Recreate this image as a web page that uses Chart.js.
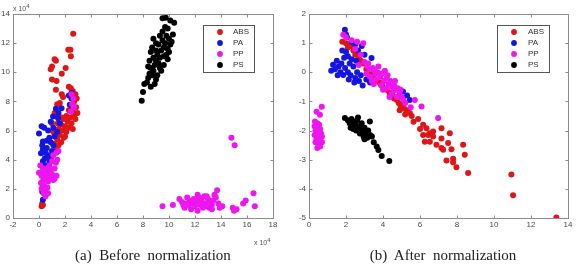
<!DOCTYPE html>
<html><head><meta charset="utf-8">
<script src="https://cdn.jsdelivr.net/npm/chart.js@4/dist/chart.umd.min.js"></script>
<style>
html,body{margin:0;padding:0;background:#fff;width:578px;height:265px;overflow:hidden;position:relative;}
canvas{position:absolute;top:0;}
#c1{left:0;} #c2{left:290px;}
.cap{position:absolute;top:248px;font-family:"Liberation Serif","Times New Roman",serif;font-size:15px;color:#222;white-space:pre;text-align:center;width:306px;line-height:15px;}
.exp{position:absolute;font-family:"Liberation Sans",Arial,sans-serif;font-size:7px;color:#555;white-space:pre;line-height:8px;}
.exp sup{font-size:6px;vertical-align:3px;}
</style></head><body>
<canvas id="c1" width="290" height="240" style="width:290px;height:240px"></canvas>
<canvas id="c2" width="288" height="240" style="width:288px;height:240px"></canvas>
<div class="exp" style="left:13px;top:2px">x 10<sup>4</sup></div>
<div class="exp" style="left:254px;top:236px">x 10<sup>4</sup></div>
<div class="cap" style="left:0px">(a)  Before  normalization</div>
<div class="cap" style="left:290px">(b)  After  normalization</div>
<script>
// ---------- DATA ----------
const seriesNames = ["ABS", "PA", "PP", "PS"];
const seriesColors = ["#e01515", "#1515e0", "#ee15ee", "#000000"];

// (a) Before normalization (both axes in units of 10^4)
const absBefore = [[1.0,10.4],[1.2,10.9],[1.3,10.8],[0.9,10.2],[1.0,9.5],[1.35,9.4],[1.3,8.8],[1.75,9.9],[2.05,10.3],[2.25,11.55],[2.42,11.55],[2.45,11.1],[2.63,12.65],[1.75,8.5],[1.85,8.3],[1.4,7.8],[1.6,7.9],[1.2,7.2],
 [2.3,9.0],[2.45,8.9],[2.6,8.7],[2.8,8.5],[2.9,8.2],[2.7,8.0],[2.5,7.7],[2.85,7.6],[2.6,7.3],[2.3,7.4],[2.95,7.2],[2.7,7.0],[2.4,6.9],[2.1,7.0],[1.9,6.8],[2.2,6.6],[2.5,6.5],[2.8,6.8],[2.0,6.3],[1.7,6.4],[1.5,6.1],[1.8,6.0],[2.1,5.9],[2.3,6.2],[1.6,5.7],[1.9,5.5],[1.4,5.4],[1.7,5.2],[1.5,5.0],[1.2,5.1],[1.3,4.8],[2.6,6.1],[2.0,5.6],[1.45,6.5],[1.75,6.9],[1.1,5.9],[1.0,6.5],[1.3,7.0],
 [0.2,0.8],[0.3,0.9],[0.25,1.0]];
const paBefore = [[0.2,6.3],[0.0,5.8],[0.3,5.25],[0.25,5.0],[0.3,4.7],[0.15,4.45],[0.45,4.1],[0.3,3.9],[0.5,3.6],[0.4,3.3],[0.2,3.0],[0.35,2.6],[0.3,2.2],[0.25,1.8],[0.3,1.25],[0.6,4.8],[0.8,5.5],[0.7,6.0],[1.08,6.96],[0.9,6.6],[1.47,6.85],[1.3,7.5],[1.1,6.2],[0.9,5.2],[1.2,5.6],[1.0,4.6],[0.7,4.3],[0.8,3.9],[1.3,4.5],[1.4,5.9],[1.6,6.5],[1.73,7.54],[2.37,7.77],[2.5,8.2],[2.5,8.57],[2.3,8.4],[1.5,7.2],[0.4,6.2],[0.6,5.3],[0.5,4.5],[1.1,5.0],[0.9,4.1],[0.6,3.2],[0.5,2.8]];
const ppBefore = [[0.0,3.1],[0.1,3.6],[0.2,2.9],[0.3,2.5],[0.4,2.2],[0.2,2.0],[0.35,1.7],[0.5,1.5],[0.45,2.8],[0.6,3.0],[0.7,2.5],[0.8,2.8],[0.9,3.3],[1.0,3.0],[1.1,2.6],[1.2,3.4],[1.3,3.8],[1.4,4.0],[0.8,3.6],[0.55,3.4],[0.65,2.1],[0.4,3.2],[1.0,3.9],[1.2,2.7],[0.3,3.4],[0.15,2.4],[0.5,1.9],[1.1,4.3],[1.35,2.9],[0.7,1.7],[2.5,8.5],[2.65,8.2],[2.55,7.8],[2.7,7.6],[2.45,7.3],[1.35,4.5],[1.5,4.6],
 [9.5,0.8],[10.3,0.9],[10.8,1.3],[11.0,1.1],[11.2,0.7],[11.4,1.4],[11.5,0.9],[11.6,1.2],[11.7,0.6],[11.8,1.0],[11.9,1.3],[12.0,0.8],[12.1,1.1],[12.2,0.5],[12.3,1.4],[12.4,0.9],[12.5,1.2],[12.6,0.7],[12.7,1.5],[12.8,1.0],[12.9,0.8],[13.0,1.3],[13.1,0.7],[13.2,1.1],[13.3,0.9],[13.5,1.6],[13.6,1.4],[13.7,1.9],[13.8,1.0],[13.9,0.7],[14.1,0.8],[12.2,1.6],[11.3,1.0],[12.0,1.2],[12.6,1.0],[13.4,1.2],[14.9,0.7],[15.0,0.5],[15.2,0.6],[15.7,1.0],[15.9,1.2],[16.5,1.7],[16.6,0.8],[14.8,5.5],[15.05,5.0],[11.1,0.9],[12.9,1.5],[13.3,0.6]];
const psBefore = [[7.9,8.05],[8.0,8.65],[8.1,9.2],[8.3,9.3],[8.4,9.6],[8.5,9.9],[8.6,10.3],[8.4,10.4],[8.7,9.8],[8.8,10.1],[8.9,10.5],[9.0,10.8],[8.8,11.0],[8.6,11.4],[8.7,11.7],[9.1,11.2],[9.2,10.6],[9.3,11.0],[9.4,11.5],[9.2,11.9],[9.5,12.2],[9.6,11.7],[9.7,12.0],[9.8,12.5],[9.5,12.8],[9.7,13.1],[9.9,13.0],[10.0,12.3],[10.1,11.9],[10.2,12.1],[9.8,11.2],[9.9,10.9],[9.6,10.5],[9.4,10.1],[9.1,9.8],[9.0,9.5],[8.9,9.2],[9.3,12.5],[9.0,12.0],[8.8,12.3],[9.5,13.7],[9.75,13.75],[10.1,13.55],[10.4,13.4],[10.3,12.6],[9.9,11.6],[9.3,10.3],[8.6,9.0],[9.6,11.1],[9.0,11.5],[10.0,11.4],[8.5,10.8]];

// (b) After normalization
const absAfter = [[1.8,1.05],[2.0,1.0],[2.1,0.85],[2.25,0.9],[2.4,0.75],[2.5,0.6],[2.7,0.55],[2.8,0.4],[2.95,0.3],[3.1,0.1],[3.2,0.15],[3.35,-0.05],[3.5,-0.2],[3.65,-0.3],[3.8,-0.35],[3.95,-0.45],[4.1,-0.55],[4.2,-0.6],[4.35,-0.7],[4.5,-0.8],[4.6,-0.9],[4.75,-0.95],[4.85,-1.05],[4.95,-1.15],[5.05,-1.1],[5.15,-1.25],[5.3,-1.3],[5.45,-1.4],[5.55,-1.5],[5.65,-1.7],[5.2,-1.45],[4.9,-1.3],
 [6.17,-1.8],[6.35,-1.92],[6.53,-2.09],[6.71,-2.03],[7.16,-1.92],[7.61,-2.09],[6.17,-2.15],[6.44,-2.15],[6.62,-2.09],[6.71,-2.2],[6.26,-2.38],[6.53,-2.38],[7.16,-2.27],[6.89,-2.49],[7.16,-2.6],[7.25,-2.66],[7.52,-2.43],[7.7,-2.64],[7.43,-3.03],[7.79,-2.97],[7.79,-3.09],[7.97,-3.26],[8.33,-2.49],[8.42,-2.83],[8.6,-3.46],[10.94,-3.51],[11.03,-4.22],[13.37,-4.98],[6.0,-1.95],[5.9,-1.6]];
const paAfter = [[1.94,1.46],[1.3,0.26],[1.5,0.4],[1.6,0.2],[1.4,0.1],[1.7,0.0],[1.85,-0.09],[1.55,-0.1],[1.75,0.3],[1.9,0.5],[2.0,0.7],[2.1,0.55],[2.2,0.3],[2.3,0.45],[2.4,0.2],[1.95,0.15],[2.1,0.0],[2.25,-0.1],[2.5,-0.2],[2.6,0.0],[2.7,-0.3],[2.8,-0.1],[2.9,-0.45],[2.45,-0.35],[2.05,1.2],[2.3,1.05],[2.5,0.95],[2.65,0.75],[2.85,0.9],[3.0,0.6],[3.38,0.49],[3.1,-0.25],[3.3,-0.35],[1.8,0.75],[1.2,0.05],[2.0,1.3],[5.08,-0.66],[5.45,-0.95],[5.3,-0.8],[2.15,-0.25],[2.55,0.4]];
const ppAfter = [[1.85,1.29],[2.0,1.2],[2.3,1.1],[2.6,1.05],[2.93,1.0],[2.5,0.8],[2.8,0.6],[3.0,0.35],[3.15,0.2],[3.3,0.1],[3.45,0.15],[3.6,-0.05],[3.7,0.0],[3.85,-0.15],[3.95,-0.05],[4.05,-0.3],[4.2,-0.2],[4.3,-0.4],[4.4,-0.3],[4.5,-0.5],[4.6,-0.45],[4.7,-0.6],[4.8,-0.55],[4.9,-0.75],[5.0,-0.85],[4.45,-0.75],[4.2,-0.55],[3.9,-0.45],[3.6,-0.25],[3.3,-0.15],[3.75,0.2],[4.1,0.05],[5.2,-1.05],[5.72,-0.95],[6.08,-1.17],[6.98,-1.57],[5.5,-1.2],[4.75,-0.85],[4.0,-0.6],[3.5,-0.4],[3.1,-0.05],[2.7,0.25],
 [3.4,-0.3],[3.55,0.05],[3.8,-0.05],[4.25,-0.1],[4.55,-0.65],[4.65,-0.3],[4.95,-0.6],[5.1,-0.95],[4.35,-0.85],[3.2,0.3],
 [0.69,-1.18],[0.41,-1.35],[0.59,-1.46],[0.32,-1.69],[0.45,-1.75],[0.55,-1.8],[0.3,-1.85],[0.4,-1.9],[0.6,-1.95],[0.35,-2.0],[0.5,-2.05],[0.65,-2.1],[0.3,-2.15],[0.45,-2.2],[0.6,-2.25],[0.4,-2.3],[0.55,-2.35],[0.7,-2.4],[0.5,-2.45],[0.6,-2.55],[0.35,-2.4],[0.45,-2.6],[0.7,-2.2]];
const psAfter = [[1.94,-1.57],[2.1,-1.65],[2.2,-1.75],[2.3,-1.6],[2.4,-1.7],[2.5,-1.8],[2.25,-1.9],[2.6,-1.65],[2.7,-1.85],[2.8,-1.95],[2.55,-2.0],[2.4,-1.95],[2.9,-2.05],[3.0,-1.9],[3.1,-2.1],[2.75,-2.1],[2.95,-2.2],[3.2,-2.0],[3.3,-2.15],[3.15,-2.25],[3.0,-2.3],[3.4,-2.2],[3.29,-1.69],[2.65,-1.55],[2.35,-1.85],[2.85,-1.75],[3.05,-2.05],[3.66,-2.55],[3.75,-2.67],[3.93,-2.87],[4.34,-3.04],[3.5,-2.4]];

// axis ranges / ticks
const axisBefore = {xMin:-2, xMax:18, xStep:2, yMin:0, yMax:14, yStep:2};
const axisAfter  = {xMin:0, xMax:14, xStep:2, yMin:-5, yMax:2, yStep:1};

// ---------- PLUGINS ----------
const framePlugin = {
  id:'frame',
  afterDraw(chart){
    const {ctx, chartArea:a, scales:{x, y}} = chart;
    ctx.save();
    ctx.strokeStyle = '#8c8c8c'; ctx.lineWidth = 1;
    const L=Math.round(a.left)+0.5, R=Math.round(a.right)+0.5, T=Math.round(a.top)+0.5, B=Math.round(a.bottom)+0.5;
    ctx.strokeRect(L, T, R-L, B-T);
    ctx.beginPath();
    x.ticks.forEach(t=>{ const p=Math.round(x.getPixelForValue(t.value))+0.5; ctx.moveTo(p,B); ctx.lineTo(p,B-3); ctx.moveTo(p,T); ctx.lineTo(p,T+3); });
    y.ticks.forEach(t=>{ const p=Math.round(y.getPixelForValue(t.value))+0.5; ctx.moveTo(L,p); ctx.lineTo(L+3,p); ctx.moveTo(R,p); ctx.lineTo(R-3,p); });
    ctx.stroke();
    ctx.restore();
  }
};
const boxLegendPlugin = {
  id:'boxLegend',
  afterDraw(chart, args, o){
    const ctx = chart.ctx;
    ctx.save();
    ctx.fillStyle='#fff'; ctx.fillRect(o.box[0], o.box[1], o.box[2], o.box[3]);
    ctx.strokeStyle='#555'; ctx.lineWidth=1; ctx.strokeRect(o.box[0]+0.5, o.box[1]+0.5, o.box[2], o.box[3]);
    ctx.font='8px "Liberation Sans", Arial, sans-serif'; ctx.textBaseline='middle'; ctx.textAlign='left';
    chart.data.datasets.forEach((ds,i)=>{
      const yy = o.rowY[i];
      ctx.beginPath(); ctx.arc(o.markX, yy, 2.9, 0, Math.PI*2); ctx.fillStyle=ds.backgroundColor; ctx.fill();
      ctx.fillStyle='#333'; ctx.fillText(ds.label, o.textX, yy);
    });
    ctx.restore();
  }
};

function toPts(arr){ return arr.map(p=>({x:p[0], y:p[1]})); }

function makeChart(id, seriesList, ax, geom){
  const tickFont = {family:'"Liberation Sans", Arial, sans-serif', size:8};
  new Chart(document.getElementById(id), {
    type:'scatter',
    data:{ datasets: seriesList.map((s,i)=>({
      label: seriesNames[i], data: toPts(s), order: seriesList.length - i,
      backgroundColor: seriesColors[i], borderWidth:0, pointRadius:3, pointHoverRadius:3
    }))},
    options:{
      responsive:false, animation:false, devicePixelRatio:1,
      layout:{padding:{left:0, top:geom.top, right:geom.right, bottom:geom.bottom}},
      plugins:{legend:{display:false}, tooltip:{enabled:false},
        boxLegend:{box:geom.legendBox, markX:geom.markX, textX:geom.textX, rowY:geom.rowY}},
      scales:{
        x:{type:'linear', min:ax.xMin, max:ax.xMax,
           ticks:{stepSize:ax.xStep, font:tickFont, color:'#4a4a4a', padding:2, maxRotation:0, autoSkip:false},
           grid:{display:false, drawTicks:false}, border:{display:false},
           afterFit(s){ s.height=geom.xh; s.paddingLeft=0; s.paddingRight=0; }},
        y:{type:'linear', min:ax.yMin, max:ax.yMax,
           ticks:{stepSize:ax.yStep, font:tickFont, color:'#4a4a4a', padding:3, autoSkip:false},
           grid:{display:false, drawTicks:false}, border:{display:false},
           afterFit(s){ s.width=geom.yw; s.paddingTop=0; s.paddingBottom=0; }}
      }
    },
    plugins:[framePlugin, boxLegendPlugin]
  });
}

makeChart('c1', [absBefore, paBefore, ppBefore, psBefore], axisBefore,
  {top:14, right:17, bottom:5, xh:17, yw:13, legendBox:[203,25,51,47], markX:220, textX:233, rowY:[32,43,54,65]});
makeChart('c2', [absAfter, paAfter, ppAfter, psAfter], axisAfter,
  {top:14, right:10, bottom:5, xh:17, yw:19, legendBox:[207,25,52,47], markX:224, textX:238, rowY:[32,43,54,65]});
</script>
</body></html>
